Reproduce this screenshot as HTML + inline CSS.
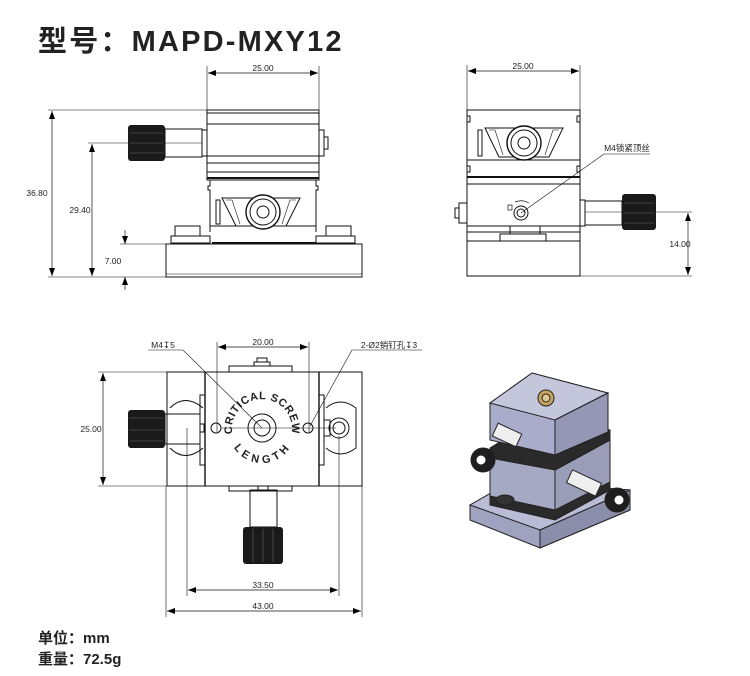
<!DOCTYPE html>
<html><head><meta charset="utf-8"><style>
html,body{margin:0;padding:0;background:#fff;}
svg{display:block;}
text{font-family:"Liberation Sans","Noto Sans CJK SC",sans-serif;}
</style></head><body>
<svg width="750" height="676" viewBox="0 0 750 676" xmlns="http://www.w3.org/2000/svg">
<defs>
<marker id="a" markerWidth="8" markerHeight="6" refX="8" refY="3" orient="auto-start-reverse" markerUnits="userSpaceOnUse"><path d="M0,0 L8,3 L0,6z" fill="#000"/></marker>
</defs>
<text x="38" y="51" font-size="29" font-weight="bold" fill="#222" letter-spacing="2.2">型号：MAPD-MXY12</text>
<text x="38" y="643" font-size="15" font-weight="bold" fill="#222">单位：mm</text>
<text x="38" y="664" font-size="15" font-weight="bold" fill="#222">重量：72.5g</text>

<g stroke="#111" fill="none" stroke-width="1">
<!-- ===== FRONT VIEW ===== -->
<line x1="207" y1="66" x2="207" y2="110" stroke-width="0.6"/>
<line x1="319" y1="66" x2="319" y2="110" stroke-width="0.6"/>
<line x1="208" y1="73" x2="318" y2="73" stroke-width="0.7" marker-start="url(#a)" marker-end="url(#a)"/>
<line x1="48" y1="110" x2="207" y2="110" stroke-width="0.6"/>
<line x1="48" y1="277" x2="166" y2="277" stroke-width="0.6"/>
<line x1="52" y1="111" x2="52" y2="276" stroke-width="0.7" marker-start="url(#a)" marker-end="url(#a)"/>
<line x1="88" y1="143" x2="128" y2="143" stroke-width="0.6"/>
<line x1="92" y1="144" x2="92" y2="276" stroke-width="0.7" marker-start="url(#a)" marker-end="url(#a)"/>
<line x1="120" y1="244" x2="166" y2="244" stroke-width="0.6"/>
<line x1="125" y1="230" x2="125" y2="244" stroke-width="0.7" marker-end="url(#a)"/>
<line x1="125" y1="290" x2="125" y2="277" stroke-width="0.7" marker-end="url(#a)"/>
<rect x="207" y="110" width="112" height="70"/>
<line x1="207" y1="113" x2="319" y2="113"/>
<line x1="207" y1="124" x2="319" y2="124"/>
<line x1="207" y1="156" x2="319" y2="156"/>
<line x1="207" y1="163" x2="319" y2="163"/>
<line x1="207" y1="172" x2="319" y2="172"/>
<line x1="207" y1="178" x2="319" y2="178" stroke-width="2"/>
<rect x="165" y="129" width="37" height="28"/>
<line x1="165" y1="143" x2="202" y2="143" stroke-width="0.5"/>
<rect x="202" y="130" width="5" height="26"/>
<rect x="319" y="130" width="5" height="26"/>
<rect x="324" y="137" width="4" height="12"/>
<path d="M210,180 V186 H208 V190 H210 V232 M316,180 V186 H318 V190 H316 V232"/>
<line x1="210" y1="226" x2="316" y2="226"/>
<path d="M222,198 L300,198 L286,226 L236,226 Z"/>
<path d="M226,200 L232,200 L240,224 M296,200 L290,200 L282,224" stroke-width="0.6"/>
<rect x="216" y="200" width="4" height="24"/>
<circle cx="263" cy="212" r="17" fill="#fff" stroke-width="1.4"/>
<circle cx="263" cy="212" r="13"/>
<circle cx="263" cy="212" r="6"/>
<rect x="175" y="226" width="25" height="10"/>
<rect x="171" y="236" width="39" height="7"/>
<rect x="326" y="226" width="25" height="10"/>
<rect x="316" y="236" width="39" height="7"/>
<line x1="212" y1="243" x2="316" y2="243" stroke-width="2"/>
<rect x="166" y="244" width="196" height="33"/>
<line x1="166" y1="274" x2="362" y2="274" stroke-width="0.5"/>

<!-- ===== SIDE VIEW ===== -->
<line x1="467" y1="65" x2="467" y2="110" stroke-width="0.6"/>
<line x1="580" y1="65" x2="580" y2="110" stroke-width="0.6"/>
<line x1="468" y1="71" x2="579" y2="71" stroke-width="0.7" marker-start="url(#a)" marker-end="url(#a)"/>
<rect x="467" y="110" width="113" height="166"/>
<path d="M467,116 H470 V122 H467 M580,116 H577 V122 H580"/>
<line x1="467" y1="160" x2="580" y2="160"/>
<path d="M467,166 H470 V172 H467 M580,166 H577 V172 H580"/>
<line x1="467" y1="177" x2="580" y2="177" stroke-width="2"/>
<line x1="467" y1="184" x2="580" y2="184"/>
<line x1="467" y1="226" x2="580" y2="226"/>
<line x1="467" y1="232" x2="580" y2="232"/>
<line x1="467" y1="241" x2="580" y2="241"/>
<path d="M485,128 L563,128 L549,157 L499,157 Z"/>
<path d="M489,130 L495,130 L503,155 M559,130 L553,130 L545,155" stroke-width="0.6"/>
<rect x="478" y="130" width="4" height="26"/>
<circle cx="524" cy="143" r="17" fill="#fff" stroke-width="1.4"/>
<circle cx="524" cy="143" r="13"/>
<circle cx="524" cy="143" r="6"/>
<rect x="510" y="226" width="30" height="8"/>
<rect x="500" y="234" width="46" height="7"/>
<rect x="459" y="203" width="8" height="20"/>
<rect x="455" y="208" width="4" height="10"/>
<rect x="580" y="200" width="5" height="26"/>
<rect x="585" y="201" width="37" height="24"/>
<line x1="585" y1="212" x2="622" y2="212" stroke-width="0.5"/>
<circle cx="521" cy="213" r="7"/>
<circle cx="521" cy="213" r="4"/>
<rect x="508" y="205" width="4" height="5" stroke-width="0.7"/>
<path d="M515,202 Q522,199 529,203" stroke-width="0.7"/>
<polyline points="521,213 604,154 650,154" stroke-width="0.6"/>
<line x1="656" y1="212" x2="692" y2="212" stroke-width="0.6"/>
<line x1="580" y1="276" x2="692" y2="276" stroke-width="0.6"/>
<line x1="688" y1="213" x2="688" y2="275" stroke-width="0.7" marker-start="url(#a)" marker-end="url(#a)"/>

<!-- ===== TOP VIEW ===== -->
<line x1="217" y1="342" x2="217" y2="432" stroke-width="0.6"/>
<line x1="309" y1="342" x2="309" y2="432" stroke-width="0.6"/>
<line x1="218" y1="347" x2="308" y2="347" stroke-width="0.7" marker-start="url(#a)" marker-end="url(#a)"/>
<rect x="167" y="372" width="195" height="114"/>
<line x1="205" y1="372" x2="205" y2="486" stroke-width="1.4"/>
<line x1="319" y1="372" x2="319" y2="486" stroke-width="1.4"/>
<rect x="200" y="395" width="5" height="70"/>
<rect x="319" y="395" width="5" height="70"/>
<path d="M229,372 V366 H292 V372 M254,366 V362 H270 V366 M257,362 V358 H267 V362"/>
<path d="M229,486 V491 H292 V486"/>
<path d="M170,408 Q185,393 203,408 M170,448 Q185,463 203,448"/>
<path d="M326,408 Q340,396 356,408 V448 Q340,460 326,448"/>
<rect x="165" y="414" width="35" height="30"/>
<rect x="200" y="424" width="4" height="8"/>
<rect x="324" y="420" width="6" height="16"/>
<circle cx="339" cy="428" r="10"/>
<circle cx="339" cy="428" r="6"/>
<circle cx="216" cy="428" r="5"/>
<circle cx="308" cy="428" r="5"/>
<circle cx="262" cy="428" r="14"/>
<circle cx="262" cy="428" r="8"/>
<line x1="222" y1="428" x2="336" y2="428" stroke-width="0.5"/>
<rect x="250" y="490" width="27" height="37"/>
<rect x="258" y="486" width="10" height="4"/>
<line x1="187" y1="428" x2="187" y2="596" stroke-width="0.6"/>
<line x1="339" y1="436" x2="339" y2="596" stroke-width="0.6"/>
<line x1="166" y1="486" x2="166" y2="617" stroke-width="0.6"/>
<line x1="362" y1="486" x2="362" y2="617" stroke-width="0.6"/>
<line x1="188" y1="590" x2="338" y2="590" stroke-width="0.7" marker-start="url(#a)" marker-end="url(#a)"/>
<line x1="167" y1="611" x2="361" y2="611" stroke-width="0.7" marker-start="url(#a)" marker-end="url(#a)"/>
<line x1="98" y1="372" x2="167" y2="372" stroke-width="0.6"/>
<line x1="98" y1="486" x2="167" y2="486" stroke-width="0.6"/>
<line x1="103" y1="373" x2="103" y2="485" stroke-width="0.7" marker-start="url(#a)" marker-end="url(#a)"/>
<polyline points="148,350 183,350 262,428" stroke-width="0.6"/>
<polyline points="422,350 352,350 310,426" stroke-width="0.6"/>
</g>

<g fill="#1a1a1a">
<rect x="128" y="125" width="37" height="36" rx="3"/>
<rect x="622" y="194" width="34" height="36" rx="3"/>
<rect x="128" y="410" width="37" height="38" rx="3"/>
<rect x="243" y="527" width="40" height="37" rx="3"/>
</g>
<g stroke="#666" stroke-width="0.6">
<line x1="130" y1="133" x2="163" y2="133"/><line x1="130" y1="143" x2="163" y2="143"/><line x1="130" y1="153" x2="163" y2="153"/>
<line x1="624" y1="203" x2="654" y2="203"/><line x1="624" y1="213" x2="654" y2="213"/><line x1="624" y1="223" x2="654" y2="223"/>
<line x1="130" y1="418" x2="163" y2="418"/><line x1="130" y1="430" x2="163" y2="430"/><line x1="130" y1="441" x2="163" y2="441"/>
<line x1="253" y1="529" x2="253" y2="562"/><line x1="263" y1="529" x2="263" y2="562"/><line x1="273" y1="529" x2="273" y2="562"/>
</g>

<g font-size="8.5" fill="#222" text-anchor="middle">
<text x="263" y="71">25.00</text>
<text x="523" y="69">25.00</text>
<text x="37" y="196">36.80</text>
<text x="80" y="213">29.40</text>
<text x="113" y="264">7.00</text>
<text x="680" y="247">14.00</text>
<text x="263" y="345">20.00</text>
<text x="91" y="432">25.00</text>
<text x="263" y="588">33.50</text>
<text x="263" y="609">43.00</text>
<text x="627" y="151">M4锁紧顶丝</text>
<text x="163" y="348">M4↧5</text>
<text x="389" y="348">2-Ø2销钉孔↧3</text>
</g>
<path id="cs" d="M234,440 A30,30 0 1 1 290,440" fill="none"/>
<path id="ln" d="M239,442 A26,26 0 0 0 285,442" fill="none"/>
<text font-size="11" font-weight="bold" fill="#222" letter-spacing="0.6"><textPath href="#cs" startOffset="50%" text-anchor="middle">CRITICAL SCREW</textPath></text>
<text font-size="11" font-weight="bold" fill="#222" letter-spacing="1.5"><textPath href="#ln" startOffset="50%" text-anchor="middle" dominant-baseline="hanging">LENGTH</textPath></text>

<!-- ===== ISOMETRIC ===== -->
<g stroke="#222" stroke-width="1">
<polygon points="470,505 510,482 630,490 630,510 540,548 470,520" fill="#9fa3bf"/>
<polygon points="470,505 510,482 630,490 540,530" fill="#b9bcd4"/>
<polygon points="540,530 630,490 630,510 540,548" fill="#8a8eaa"/>
<polygon points="490,465 535,440 610,448 610,490 555,520 490,505" fill="#2a2a2a"/>
<polygon points="490,458 535,432 610,440 610,482 555,510 490,496" fill="#a6a9c4"/>
<polygon points="555,470 610,440 610,482 555,510" fill="#9a9db8"/>
<polygon points="490,448 535,420 610,430 610,440 555,470 490,458" fill="#2a2a2a"/>
<polygon points="490,403 532,373 608,393 608,432 555,455 490,440" fill="#a9accb"/>
<polygon points="490,403 532,373 608,393 555,420" fill="#c4c6dc"/>
<polygon points="555,420 608,393 608,432 555,455" fill="#9598b5"/>
<circle cx="546" cy="398" r="8" fill="#c8a460"/>
<circle cx="546" cy="398" r="4" fill="#e0c890"/>
<rect x="494" y="428" width="26" height="14" fill="#eee" transform="rotate(25 507 435)"/>
<circle cx="483" cy="460" r="12" fill="#1e1e1e"/>
<circle cx="481" cy="460" r="5" fill="#fff"/>
<rect x="568" y="476" width="32" height="14" fill="#eee" transform="rotate(25 584 483)"/>
<circle cx="617" cy="500" r="12" fill="#1e1e1e"/>
<circle cx="619" cy="500" r="5" fill="#fff"/>
<ellipse cx="505" cy="500" rx="9" ry="5" fill="#333"/>
</g>
</svg>
</body></html>
